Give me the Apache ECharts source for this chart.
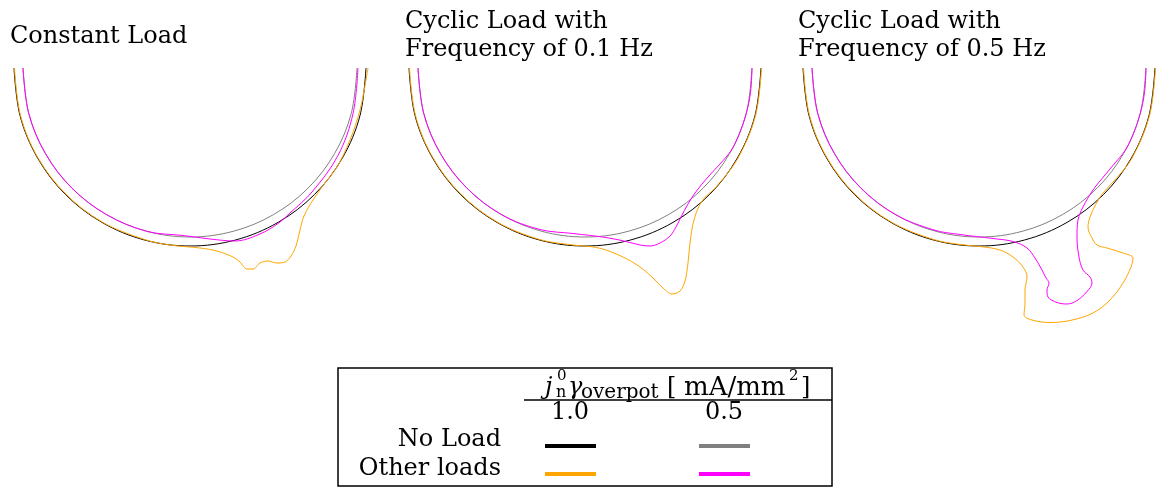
<!DOCTYPE html>
<html><head><meta charset="utf-8">
<script src="https://cdn.jsdelivr.net/npm/echarts@6/dist/echarts.min.js"></script>
<style>html,body{margin:0;padding:0;background:#fff}#c{width:1156px;height:487px}</style>
</head><body><div id="c"></div>
<script>
// ---------- data (x, y in same units, black interface centre at 0,0) ----------
const panelTitles = [
  ['Constant Load'],
  ['Cyclic Load with', 'Frequency of 0.1 Hz'],
  ['Cyclic Load with', 'Frequency of 0.5 Hz']
];
const legendColumns = ['1.0', '0.5'];
const legendRows = ['No Load', 'Other loads'];

// No load, j0*gamma = 1.0 (black)
const noLoad10 = [[-176,2],[-170,-45.5],[-152.4,-88],[-124.5,-124.5],[-88,-152.4],[-45.5,-170],[0,-176],[45.5,-170],[88,-152.4],[124.5,-124.5],[152.4,-88],[170,-45.5],[176,2]];
// No load, j0*gamma = 0.5 (gray)
const noLoad05 = [[-167,2],[-161.3,-43.2],[-144.6,-83.5],[-118.1,-118.1],[-83.5,-144.6],[-43.2,-161.3],[0,-167],[43.2,-161.3],[83.5,-144.6],[118.1,-118.1],[144.6,-83.5],[161.3,-43.2],[167,2]];

// Constant load
const constOther10 = [[-175.5,2],[-169.5,-45.4],[-152,-87.8],[-124.1,-124.1],[-87.8,-152],[-45.4,-169.5],[-20,-175],[10,-178],[27,-181],[43,-187],[50,-192],[57,-199],[63,-199],[70,-193],[78,-191],[87,-193],[95,-192],[101,-186],[106,-176],[110,-160],[114,-146],[123,-130],[135,-113],[147,-97],[160,-70],[170,-40],[176,-10],[178,2]];
const constOther05 = [[-167,2],[-161.3,-43.2],[-144.6,-83.5],[-118.1,-118.1],[-83.5,-144.6],[-43.2,-161.3],[-7,-165.5],[20,-169],[45,-171],[70,-164],[88,-153.5],[100,-143],[122,-122],[148,-85.5],[163,-43.7],[168,2]];

// Cyclic load 0.1 Hz
const cyc01Other10 = [[-175.5,2],[-169.5,-45.4],[-152,-87.8],[-124.1,-124.1],[-87.8,-152],[-45.4,-169.5],[-12,-175],[14,-178],[38,-187],[55,-197],[68,-208],[78,-218],[87,-224],[95,-221],[100,-211],[103,-193],[105,-173],[109,-150],[117,-131],[131,-117],[152.9,-88.3],[170.5,-45.7],[176.5,2]];
const cyc01Other05 = [[-167,2],[-161.3,-43.2],[-144.6,-83.5],[-118.1,-118.1],[-83.5,-144.6],[-45,-159.5],[-12,-163.5],[21,-167.5],[41,-171.5],[55,-175],[65,-176],[75,-173],[85,-166],[91,-157],[96,-147],[103,-134],[110,-123],[123,-107],[135,-94],[146.5,-80],[154.3,-63.9],[161.3,-43.2],[165.6,-21.8],[167,2]];

// Cyclic load 0.5 Hz
const cyc05Other10 = [[-175.5,2],[-169.5,-45.4],[-152,-87.8],[-124.1,-124.1],[-87.8,-152],[-45.4,-169.5],[-19,-174.5],[1,-176.5],[21,-180],[34,-187],[44,-197],[48,-207],[46,-220],[46,-233],[45,-245],[53,-250],[71,-252.5],[91,-250.5],[114,-243],[131,-230],[144,-213],[152,-197],[154,-188],[144,-183],[128,-178],[118,-175],[113,-168],[109,-157],[111,-147],[117,-134],[124,-123],[135,-111],[152.9,-88.3],[170.5,-45.7],[176.5,2]];
const cyc05Other05 = [[-167,2],[-161.3,-43.2],[-144.6,-83.5],[-118.1,-118.1],[-83.5,-144.6],[-45,-160],[-19,-164.5],[14,-168.5],[34,-171.5],[48,-178],[56,-188],[63,-200],[67,-208],[70,-213],[68,-220],[69,-227],[78,-232.5],[88,-234],[98,-230.5],[108,-221.5],[113,-213],[111,-207],[104,-200],[100,-187],[98,-167],[99,-150],[104,-137],[114,-120],[126,-105],[136,-93],[146.5,-80],[154.3,-63.9],[161.3,-43.2],[165.6,-21.8],[167,2]];

// ---------- styling / layout ----------
const COLORS = { noLoad10: '#000000', noLoad05: '#808080', other10: '#FFA500', other05: '#FF00FF' };
const FONT = '"DejaVu Serif"';
const panelLayout = [
  { left: 10,  xMin: -180, xMax: 180, titleX: 10,  other10: constOther10, other05: constOther05 },
  { left: 405, xMin: -180, xMax: 180, titleX: 405, other10: cyc01Other10, other05: cyc01Other05 },
  { left: 799, xMin: -180, xMax: 177, titleX: 798, other10: cyc05Other10, other05: cyc05Other05 }
];

const grids = [], xAxes = [], yAxes = [], series = [];
panelLayout.forEach((p, i) => {
  grids.push({ left: p.left, top: 68, width: p.xMax - p.xMin, height: 262 });
  xAxes.push({ type: 'value', gridIndex: i, min: p.xMin, max: p.xMax, show: false });
  yAxes.push({ type: 'value', gridIndex: i, min: -260, max: 2, show: false });
  const mk = (name, data, color) => ({
    name, type: 'line', xAxisIndex: i, yAxisIndex: i, data,
    showSymbol: false, smooth: 0.35, silent: true,
    lineStyle: { color, width: 1 }, clip: true
  });
  series.push(mk('No Load 1.0', noLoad10, COLORS.noLoad10));
  series.push(mk('No Load 0.5', noLoad05, COLORS.noLoad05));
  series.push(mk('Other 1.0', p.other10, COLORS.other10));
  series.push(mk('Other 0.5', p.other05, COLORS.other05));
});

function txt(x, y, text, size, opts) {
  opts = opts || {};
  return { type: 'text', x, y, silent: true, style: {
    text, fill: '#000', font: `${opts.italic ? 'italic ' : ''}${size}px ${FONT}`,
    textAlign: opts.align || 'left', textVerticalAlign: 'middle', verticalAlign: 'middle'
  }};
}

const graphics = [];
// panel titles
panelLayout.forEach((p, i) => {
  const lines = panelTitles[i];
  if (lines.length === 1) graphics.push(txt(p.titleX, 37, lines[0], 24));
  else { graphics.push(txt(p.titleX, 22, lines[0], 24)); graphics.push(txt(p.titleX, 50, lines[1], 24)); }
});
// legend table
graphics.push({ type: 'rect', silent: true, shape: { x: 338, y: 368, width: 494, height: 118 },
  style: { fill: 'none', stroke: '#000', lineWidth: 1.5 } });
graphics.push({ type: 'line', silent: true, shape: { x1: 524, y1: 400, x2: 832, y2: 400 },
  style: { stroke: '#000', lineWidth: 1.3 } });
// header  j_n^0 gamma_overpot [ mA/mm^2 ]
graphics.push(txt(545, 388, 'j', 24, { italic: true }));
graphics.push(txt(557, 376, '0', 15));
graphics.push(txt(556, 393, 'n', 16));
graphics.push(txt(568, 388, 'γ', 24, { italic: true }));
graphics.push(txt(581, 393, 'overpot', 20));
graphics.push(txt(667, 388, '[', 24));
graphics.push(txt(684, 388, 'mA/mm', 26));
graphics.push(txt(789, 376, '2', 15));
graphics.push(txt(801, 388, ']', 24));
// column labels
const colX = [570, 724];
legendColumns.forEach((c, k) => graphics.push(txt(colX[k], 413, c, 24, { align: 'center' })));
// row labels
const rowY = [440, 469];
legendRows.forEach((r, k) => graphics.push(txt(501, rowY[k], r, 24, { align: 'right' })));
// swatches
const swatch = [[COLORS.noLoad10, COLORS.noLoad05], [COLORS.other10, COLORS.other05]];
const swY = [446, 474];
swatch.forEach((row, r) => row.forEach((col, c) => {
  graphics.push({ type: 'line', silent: true,
    shape: { x1: colX[c] - 25, y1: swY[r], x2: colX[c] + 26, y2: swY[r] },
    style: { stroke: col, lineWidth: 4 } });
}));

const chart = echarts.init(document.getElementById('c'), null, { renderer: 'canvas' });
chart.setOption({
  animation: false,
  backgroundColor: '#fff',
  grid: grids, xAxis: xAxes, yAxis: yAxes, series,
  graphic: { elements: graphics }
});
</script></body></html>
